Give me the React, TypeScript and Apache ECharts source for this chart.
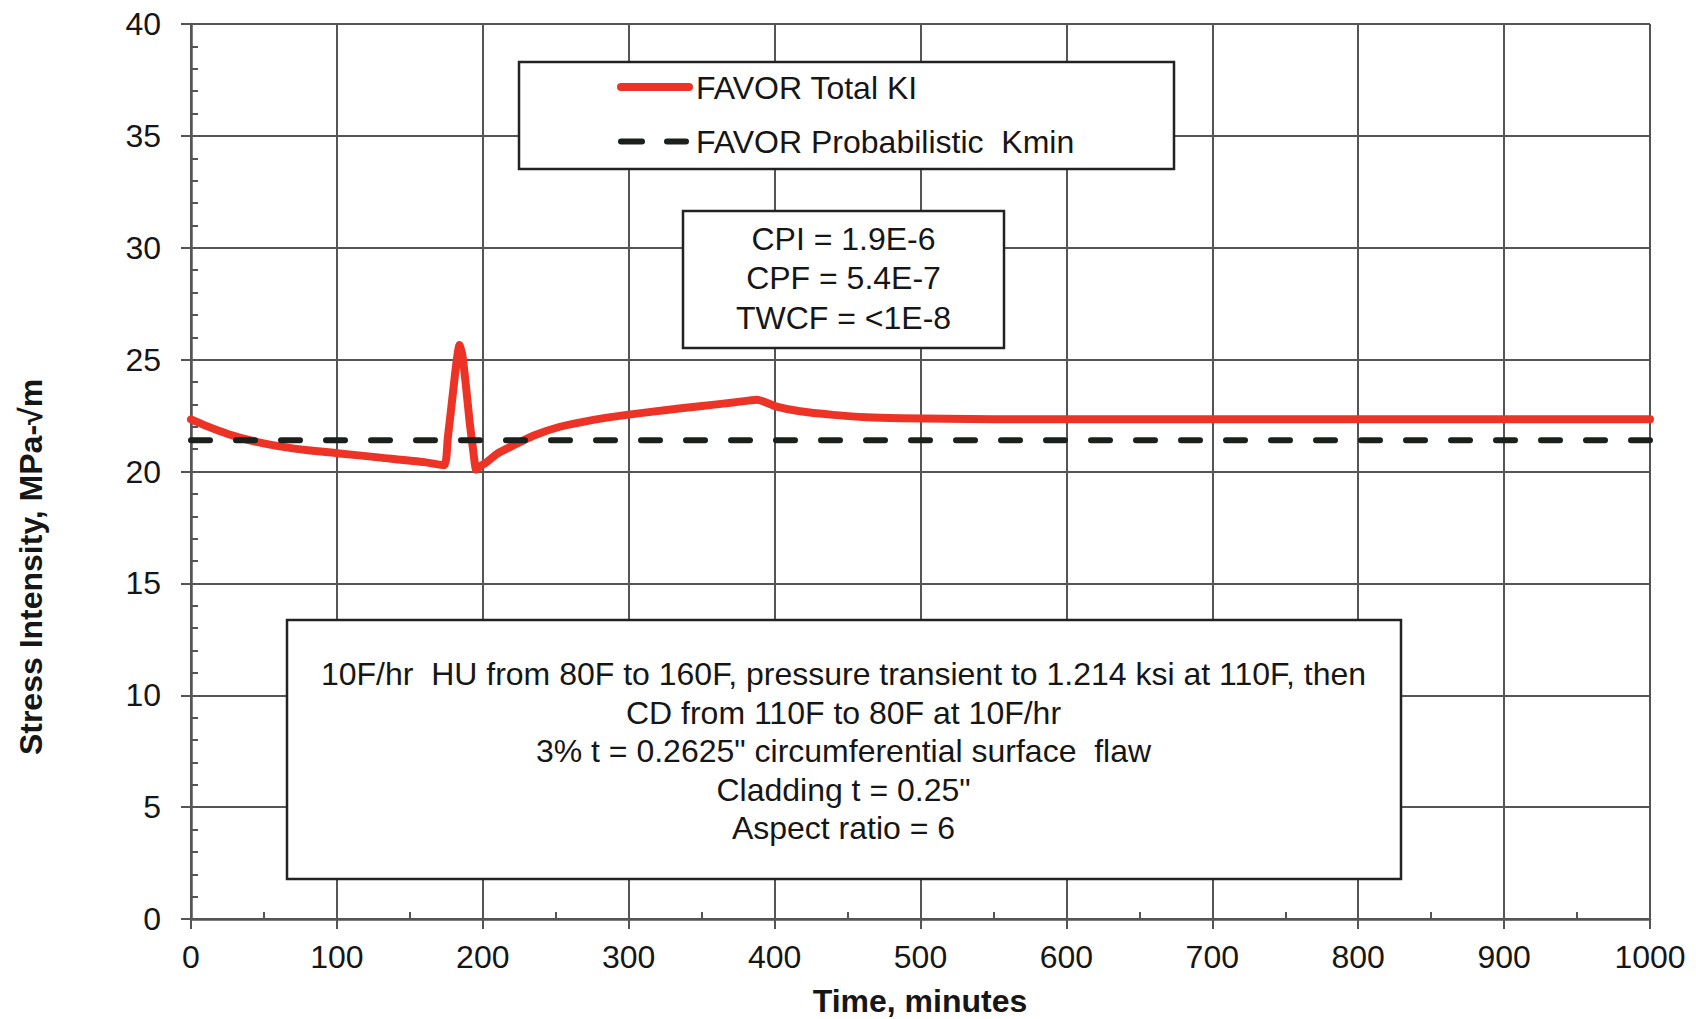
import React, { useEffect, useRef } from "react";
import * as echarts from "echarts";

// ---- data ----
const timeKI = [0, 10, 20, 30, 45, 63, 80, 100, 130, 160, 173.5, 176, 179, 182, 184, 186, 188.5, 191, 193.5, 195.5, 198, 202.7, 210, 218.6, 234.6, 252.9, 275.8, 298.6, 326, 348.9, 371.7, 388, 401.4, 417.4, 440.2, 463.1, 486, 550, 700, 850, 1000];
const valuesKI = [22.33, 22.05, 21.8, 21.58, 21.32, 21.1, 20.95, 20.82, 20.62, 20.42, 20.28, 21.5, 23.2, 24.9, 25.65, 25.2, 23.8, 22.2, 20.9, 20.08, 20.22, 20.42, 20.8, 21.09, 21.6, 22.0, 22.31, 22.53, 22.75, 22.92, 23.08, 23.21, 22.9, 22.69, 22.53, 22.42, 22.38, 22.34, 22.33, 22.33, 22.33];
const timeKmin = [0, 1000];
const valuesKmin = [21.4, 21.4];

const xTicks = { min: 0, max: 1000, major: 100, minor: 50 };
const yTicks = { min: 0, max: 40, major: 5, minor: 1 };

const seriesNames = ["FAVOR Total KI", "FAVOR Probabilistic  Kmin"];
const resultLines = ["CPI = 1.9E-6", "CPF = 5.4E-7", "TWCF = <1E-8"];
const noteLines = [
  "10F/hr  HU from 80F to 160F, pressure transient to 1.214 ksi at 110F, then",
  "CD from 110F to 80F at 10F/hr",
  "3% t = 0.2625\" circumferential surface  flaw",
  "Cladding t = 0.25\"",
  "Aspect ratio = 6",
];
const xTitle = "Time, minutes";
const yTitle = "Stress Intensity, MPa-\u221Am";

const FONT = "'Liberation Sans', Arial, Helvetica, sans-serif";
const RED = "#ec3326";
const DARK = "#1b201d";
const GRIDC = "#555555";
const TXT = "#161616";

export default function App() {
  const ref = useRef<HTMLDivElement>(null);
  useEffect(() => {
    if (!ref.current) return;
    const chart = echarts.init(ref.current, undefined, { renderer: "svg" });
    const kiData = timeKI.map((t, i) => [t, valuesKI[i]]);
    const kminData = timeKmin.map((t, i) => [t, valuesKmin[i]]);

    const textStyle = (size: number, bold = false) => ({
      fontSize: size,
      fontFamily: FONT,
      fontWeight: bold ? "bold" : "normal",
      fill: TXT,
    });

    const graphic: any[] = [
      // legend box
      {
        type: "rect",
        z: 100,
        shape: { x: 519, y: 62, width: 655, height: 107 },
        style: { fill: "#fff", stroke: "#222", lineWidth: 2.5 },
      },
      {
        type: "line",
        z: 101,
        shape: { x1: 621, y1: 87, x2: 689, y2: 87 },
        style: { stroke: RED, lineWidth: 8, lineCap: "round" },
      },
      {
        type: "line",
        z: 101,
        shape: { x1: 621, y1: 141.5, x2: 642, y2: 141.5 },
        style: { stroke: DARK, lineWidth: 6, lineCap: "round" },
      },
      {
        type: "line",
        z: 101,
        shape: { x1: 667, y1: 141.5, x2: 686, y2: 141.5 },
        style: { stroke: DARK, lineWidth: 6, lineCap: "round" },
      },
      {
        type: "text",
        z: 101,
        x: 696,
        y: 88,
        style: { ...textStyle(32), text: seriesNames[0], align: "left", verticalAlign: "middle" },
      },
      {
        type: "text",
        z: 101,
        x: 696,
        y: 142,
        style: { ...textStyle(32), text: seriesNames[1], align: "left", verticalAlign: "middle" },
      },
      // results box
      {
        type: "rect",
        z: 100,
        shape: { x: 683, y: 211, width: 321, height: 137 },
        style: { fill: "#fff", stroke: "#222", lineWidth: 2.5 },
      },
      ...resultLines.map((s, i) => ({
        type: "text",
        z: 101,
        x: 843.5,
        y: 239 + i * 39.3,
        style: { ...textStyle(32), text: s, align: "center", verticalAlign: "middle" },
      })),
      // notes box
      {
        type: "rect",
        z: 100,
        shape: { x: 287, y: 620, width: 1114, height: 259 },
        style: { fill: "#fff", stroke: "#222", lineWidth: 2.5 },
      },
      ...noteLines.map((s, i) => ({
        type: "text",
        z: 101,
        x: 843.5,
        y: 674 + i * 38.6,
        style: { ...textStyle(32), text: s, align: "center", verticalAlign: "middle" },
      })),
      // axis titles
      {
        type: "text",
        z: 101,
        x: 920,
        y: 1001,
        style: { ...textStyle(32, true), lineHeight: 30, text: xTitle, align: "center", verticalAlign: "middle" },
      },
      {
        type: "text",
        z: 101,
        x: 31,
        y: 567,
        rotation: Math.PI / 2,
        style: { ...textStyle(32, true), text: yTitle, align: "center", verticalAlign: "middle" },
      },
    ];

    const option: any = {
      animation: false,
      backgroundColor: "#ffffff",
      grid: { left: 191, top: 24, width: 1459, height: 895, containLabel: false },
      xAxis: [
        {
          type: "value",
          min: xTicks.min,
          max: xTicks.max,
          interval: xTicks.major,
          position: "bottom",
          axisLine: { show: true, onZero: false, lineStyle: { color: GRIDC, width: 2.5 } },
          axisTick: { show: true, inside: false, length: 10, lineStyle: { color: GRIDC, width: 2 } },
          axisLabel: { fontSize: 32, fontFamily: FONT, color: TXT, margin: 22, formatter: (v: number) => String(v) },
          splitLine: { show: true, lineStyle: { color: GRIDC, width: 2 } },
        },
        {
          type: "value",
          min: xTicks.min,
          max: xTicks.max,
          interval: xTicks.minor,
          position: "bottom",
          axisLine: { show: false, onZero: false },
          axisTick: { show: true, inside: true, length: 7, lineStyle: { color: GRIDC, width: 2 } },
          axisLabel: { show: false },
          splitLine: { show: false },
        },
      ],
      yAxis: [
        {
          type: "value",
          min: yTicks.min,
          max: yTicks.max,
          interval: yTicks.major,
          position: "left",
          axisLine: { show: true, onZero: false, lineStyle: { color: GRIDC, width: 2.5 } },
          axisTick: { show: true, inside: false, length: 10, lineStyle: { color: GRIDC, width: 2 } },
          axisLabel: { fontSize: 32, fontFamily: FONT, color: TXT, margin: 30, formatter: (v: number) => String(v) },
          splitLine: { show: true, lineStyle: { color: GRIDC, width: 2 } },
        },
        {
          type: "value",
          min: yTicks.min,
          max: yTicks.max,
          interval: yTicks.minor,
          position: "left",
          axisLine: { show: false, onZero: false },
          axisTick: { show: true, inside: true, length: 7, lineStyle: { color: GRIDC, width: 2 } },
          axisLabel: { show: false },
          splitLine: { show: false },
        },
      ],
      series: [
        {
          name: seriesNames[0],
          type: "line",
          data: kiData,
          showSymbol: false,
          symbol: "none",
          smooth: 0.2,
          lineStyle: { color: RED, width: 8, join: "round", cap: "round" },
          z: 3,
        },
        {
          name: seriesNames[1],
          type: "line",
          data: kminData,
          showSymbol: false,
          symbol: "none",
          lineStyle: { color: DARK, width: 6, type: [19, 26], cap: "round" },
          z: 4,
        },
      ],
      graphic,
    };
    chart.setOption(option);
    return () => chart.dispose();
  }, []);
  return (
    <div
      ref={ref}
      style={{ position: "absolute", left: 0, top: 0, width: 1696, height: 1019, background: "#fff" }}
    />
  );
}
